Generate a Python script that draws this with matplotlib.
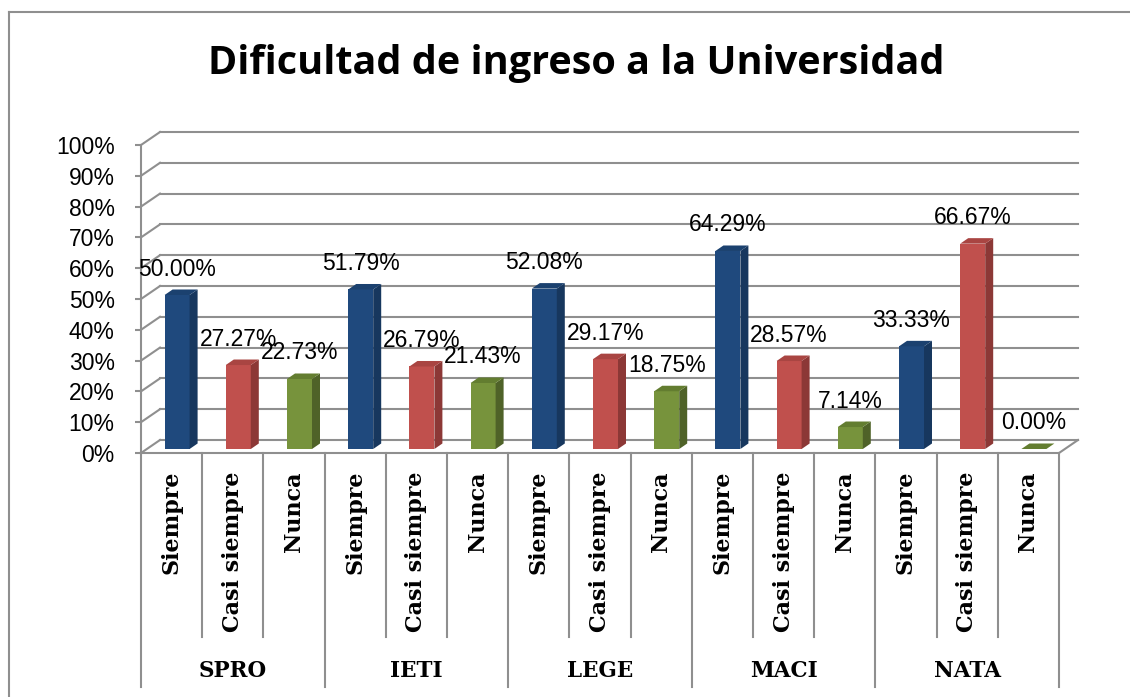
import matplotlib
matplotlib.use('Agg')
import matplotlib.pyplot as plt
from matplotlib.patches import Polygon
from matplotlib.lines import Line2D

groups = ['SPRO', 'IETI', 'LEGE', 'MACI', 'NATA']
answers = ['Siempre', 'Casi siempre', 'Nunca']
siempre = [50.00, 51.79, 52.08, 64.29, 33.33]
casi_siempre = [27.27, 26.79, 29.17, 28.57, 66.67]
nunca = [22.73, 21.43, 18.75, 7.14, 0.00]
yticks = list(range(0, 101, 10))

series = [siempre, casi_siempre, nunca]
# front, side, top
colores = [('#1F497D', '#17375E', '#1B416F'),
           ('#C0504D', '#8C3836', '#A94542'),
           ('#77933C', '#4F6228', '#637D30')]

W, H = 1130, 697
fig = plt.figure(figsize=(W / 100, H / 100), dpi=100)
ax = fig.add_axes([141 / W, 1 - 453 / H, 918 / W, 308 / H])
nslots = len(groups) * len(answers)
ax.set_xlim(0, nslots)
ax.set_ylim(0, 100)
for s in ax.spines.values():
    s.set_visible(False)

px_x = 918 / nslots
px_y = 308 / 100
dX, dY = 19 / px_x, 13 / px_y
gris = '#8F8F8F'
lw = 1.5

# paredes y rejilla
for v in yticks:
    ax.plot([0, dX], [v, v + dY], color=gris, lw=lw, clip_on=False, zorder=1)
    ax.plot([dX, nslots + dX], [v + dY, v + dY], color=gris, lw=lw, clip_on=False, zorder=1)
ax.plot([0, 0], [0, 100], color=gris, lw=lw, clip_on=False, zorder=1)
ax.plot([0, nslots], [0, 0], color=gris, lw=lw, clip_on=False, zorder=1)
ax.plot([nslots, nslots + dX], [0, dY], color=gris, lw=lw, clip_on=False, zorder=1)

# barras 3D
bw = 25 / px_x
fx, fy = 5.5 / px_x, 4 / px_y
bdx, bdy = 8 / px_x, 5.5 / px_y
for k, vals in enumerate(series):
    cf, cs, ct = colores[k]
    for g, v in enumerate(vals):
        slot = g * len(answers) + k
        x0 = slot + 0.5 - bw / 2 + fx
        x1 = x0 + bw
        ax.bar(x0, v, width=bw, bottom=fy, align='edge', color=cf, linewidth=0, zorder=3)
        top = fy + v
        ax.add_patch(Polygon([(x1, fy), (x1 + bdx, fy + bdy), (x1 + bdx, top + bdy), (x1, top)],
                             closed=True, facecolor=cs, edgecolor='none', zorder=3, clip_on=False))
        ax.add_patch(Polygon([(x0, top), (x1, top), (x1 + bdx, top + bdy), (x0 + bdx, top + bdy)],
                             closed=True, facecolor=ct, edgecolor='none', zorder=3, clip_on=False))
        ax.text(x0 + bw / 2, top + 26 / px_y, f'{v:.2f}%', ha='center', va='center',
                fontsize=16.5, family='Liberation Sans', zorder=4)

# eje y
ax.set_xticks([])
ax.set_yticks(yticks)
ax.set_yticklabels([f'{v}%' for v in yticks], family='Liberation Sans')
ax.tick_params(axis='y', length=4, width=lw, color=gris, labelcolor='black',
               pad=15, labelsize=16.5)

# tabla de categorias
y_sub = -(637 - 453) / px_y
y_grp = -(687 - 453) / px_y
for i in range(nslots + 1):
    yb = y_grp if i % len(answers) == 0 else y_sub
    ax.plot([i, i], [0, yb], color=gris, lw=lw, clip_on=False, zorder=1)
for g, nombre in enumerate(groups):
    for k, a in enumerate(answers):
        slot = g * len(answers) + k
        ax.text(slot + 0.5, -(471 - 453) / px_y, a, rotation=90, ha='center', va='top',
                family='DejaVu Serif', fontweight='bold', fontsize=16)
    ax.text(g * len(answers) + 1.5, -(671 - 453) / px_y, nombre, ha='center', va='center',
            family='DejaVu Serif', fontweight='bold', fontsize=15.5)

# titulo y borde
fig.text(576 / W, 1 - 74 / H, 'Dificultad de ingreso a la Universidad', ha='center',
         va='baseline', family='Open Sans', fontweight='bold', fontsize=28.5)
fig.add_artist(Line2D([8.5 / W, 8.5 / W], [0, 1 - 12 / H], color=gris, lw=lw))
fig.add_artist(Line2D([8.5 / W, 1], [1 - 12 / H, 1 - 12 / H], color=gris, lw=lw))

fig.savefig('out.png', dpi=100)
